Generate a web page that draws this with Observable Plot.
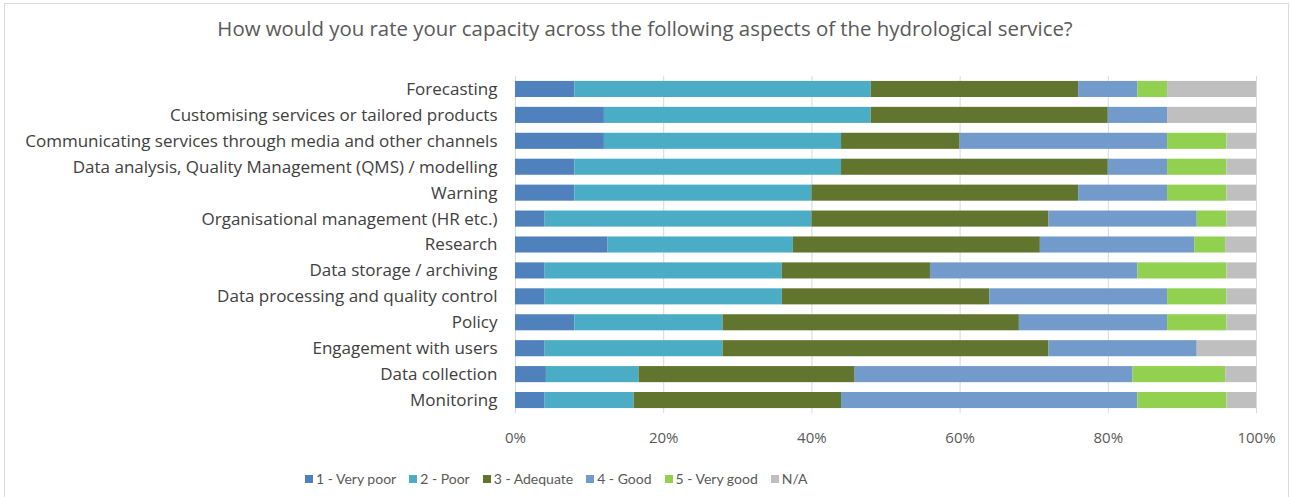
<!DOCTYPE html>
<html>
<head>
<meta charset="utf-8">
<script src="https://cdn.jsdelivr.net/npm/d3@7"></script>
<script src="https://cdn.jsdelivr.net/npm/@observablehq/plot@0.6"></script>
<style>
  html, body { margin: 0; padding: 0; background: #fff; }
  body { width: 1290px; height: 497px; overflow: hidden; font-family: "Open Sans", sans-serif; }
  #frame { position: absolute; left: 4px; top: 3px; width: 1285px; height: 500px; border: 1px solid #d9d9d9; box-sizing: border-box; }
  #title { position: absolute; left: 0; top: 14px; width: 1290px; text-align: center; font-size: 20.4px; color: #595959; }
  #chart { position: absolute; left: 0; top: 50px; }
  #legend { position: absolute; left: 305px; top: 470px; display: flex; align-items: center; font-family: Lato, sans-serif; font-size: 14px; color: #595959; }
  #legend .item { display: flex; align-items: center; margin-right: 13px; }
  #legend .sw { width: 8px; height: 8px; margin-right: 3px; }
</style>
</head>
<body>
<div id="frame"></div>
<div id="title">How would you rate your capacity across the following aspects of the hydrological service?</div>
<div id="chart"></div>
<div id="legend"></div>
<script>
// Aspects of the hydrological service, top to bottom
const aspects = [
  "Forecasting",
  "Customising services or tailored products",
  "Communicating services through media and other channels",
  "Data analysis, Quality Management (QMS) / modelling",
  "Warning",
  "Organisational management (HR etc.)",
  "Research",
  "Data storage / archiving",
  "Data processing and quality control",
  "Policy",
  "Engagement with users",
  "Data collection",
  "Monitoring"
];

// Rating categories and their colours
const ratings = ["1 - Very poor", "2 - Poor", "3 - Adequate", "4 - Good", "5 - Very good", "N/A"];
const colors = ["#4f81bd", "#4bacc6", "#62752f", "#729aca", "#92d050", "#bfbfbf"];

// Share of respondents (%) per rating, one array per rating, aligned with aspects
const veryPoor = [8, 12, 12, 8, 8, 4, 12.5, 4, 4, 8, 4, 4.17, 4];
const poor     = [40, 36, 32, 36, 32, 36, 25, 32, 32, 20, 24, 12.5, 12];
const adequate = [28, 32, 16, 36, 36, 32, 33.33, 20, 28, 40, 44, 29.17, 28];
const good     = [8, 8, 28, 8, 12, 20, 20.83, 28, 24, 20, 20, 37.5, 40];
const veryGood = [4, 0, 8, 8, 8, 4, 4.17, 12, 8, 8, 0, 12.5, 12];
const na       = [12, 12, 4, 4, 4, 4, 4.17, 4, 4, 4, 8, 4.17, 4];

const xTicks = [0, 0.2, 0.4, 0.6, 0.8, 1];

const series = [veryPoor, poor, adequate, good, veryGood, na];
const rows = [];
ratings.forEach((r, i) => {
  aspects.forEach((a, j) => rows.push({aspect: a, rating: r, value: series[i][j] / 100}));
});

const chart = Plot.plot({
  width: 1290,
  height: 410,
  marginLeft: 515,
  marginRight: 34,
  marginTop: 26,
  marginBottom: 47,
  style: {fontFamily: "'Open Sans', sans-serif", background: "transparent"},
  x: {domain: [0, 1], ticks: xTicks, tickFormat: d3.format(".0%"), label: null},
  y: {domain: aspects, paddingInner: 0.38, paddingOuter: 0.19, round: false, label: null},
  color: {domain: ratings, range: colors},
  marks: [
    Plot.gridX(xTicks, {stroke: "#d9d9d9", strokeOpacity: 1, strokeWidth: 1}),
    Plot.barX(rows, Plot.stackX({x: "value", y: "aspect", fill: "rating", order: ratings})),
    Plot.axisX(xTicks, {tickSize: 0, tickPadding: 19, fontSize: 15, color: "#595959", tickFormat: d3.format(".0%"), label: null}),
    Plot.axisY({tickSize: 0, tickPadding: 18, fontSize: 17, color: "#404040", label: null})
  ]
});
document.getElementById("chart").appendChild(chart);

// Legend built from the plot's colour scale
const colorScale = chart.scale("color");
const legend = document.getElementById("legend");
colorScale.domain.forEach((r, i) => {
  const item = document.createElement("div");
  item.className = "item";
  const sw = document.createElement("span");
  sw.className = "sw";
  sw.style.background = colorScale.range[i];
  const label = document.createElement("span");
  label.textContent = r;
  item.appendChild(sw);
  item.appendChild(label);
  legend.appendChild(item);
});
</script>
</body>
</html>
